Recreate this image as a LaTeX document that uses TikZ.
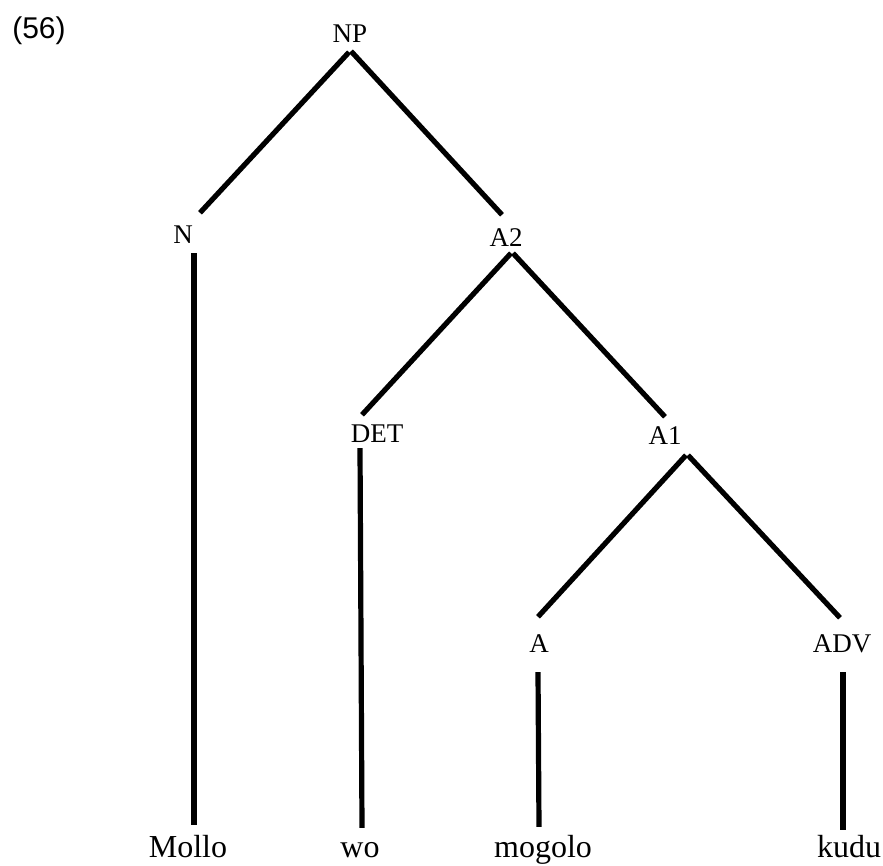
\documentclass[tikz,border=0pt]{standalone}
\usepackage{fontspec}
\setmainfont{Liberation Serif}
\newfontfamily\exfont{Liberation Sans}

\tikzset{
  cat/.style={inner sep=0pt, text height=18pt, text depth=0pt, font=\fontsize{27}{30}\selectfont},
  word/.style={inner sep=0pt, anchor=base, text height=22pt, text depth=0pt, font=\fontsize{32}{36}\selectfont},
  branch/.style={line width=5.2pt, draw=black}
}

\begin{document}
\begin{tikzpicture}[x=1pt, y=1pt]
\useasboundingbox (0,0) rectangle (883,865);

% Nummer
\node[inner sep=0pt, font=\exfont\fontsize{30}{34}\selectfont] (ex) at (39,834) {(56)};

% Kategorien
\node[cat] (NP) at (350,831) {NP};
\node[cat] (N) at (183,630) {N};
\node[cat] (A2) at (506,627) {A2};
\node[cat] (DET) at (377,431) {DET};
\node[cat] (A1) at (665,429) {A1};
\node[cat] (A) at (539,221) {A};
\node[cat] (ADV) at (842,221) {ADV};

% Woerter
\node[word] (Mollo) at (188,8) {Mollo};
\node[word] (wo) at (360,8) {wo};
\node[word] (mogolo) at (543,8) {mogolo};
\node[word] (kudu) at (849,8) {kudu};

% Aeste
\draw[branch] ([shift={(-1,-9)}]NP.south) -- ([shift={(17,13)}]N.north); % NP - N
\draw[branch] ([shift={(1,-8)}]NP.south) -- ([shift={(-4,14)}]A2.north); % NP - A2
\draw[branch] ([shift={(5,-6)}]A2.south) -- ([shift={(-15,10)}]DET.north); % A2 - DET
\draw[branch] ([shift={(7,-6)}]A2.south) -- ([shift={(0,10)}]A1.north); % A2 - A1
\draw[branch] ([shift={(21,-10)}]A1.south) -- ([shift={(-1,18)}]A.north); % A1 - A
\draw[branch] ([shift={(23,-10)}]A1.south) -- ([shift={(-2,17)}]ADV.north); % A1 - ADV

% Senkrechte
\draw[branch] ([shift={(11,-9)}]N.south) -- ([shift={(6,10)}]Mollo.north);
\draw[branch] ([shift={(-17,-5)}]DET.south) -- ([shift={(2,7)}]wo.north);
\draw[branch] ([shift={(-1,-19)}]A.south) -- ([shift={(-4,8)}]mogolo.north);
\draw[branch] ([shift={(1,-19)}]ADV.south) -- ([shift={(-6,5)}]kudu.north);
\end{tikzpicture}
\end{document}
